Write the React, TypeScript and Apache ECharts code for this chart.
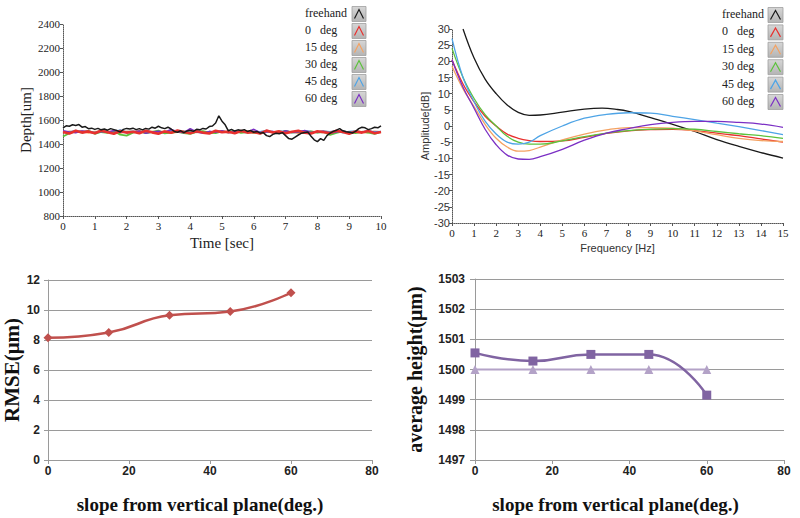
import React, { useEffect, useRef } from "react";
import * as echarts from "echarts";

// ---------- Panel 1: depth vs time ----------
const freehandStep = 0.1;
const freehandDepth = [
  1535, 1552, 1548, 1560, 1555, 1562, 1540, 1545, 1528, 1532,
  1522, 1530, 1518, 1525, 1515, 1528, 1520, 1512, 1500, 1522,
  1530, 1525, 1532, 1520, 1528, 1518, 1530, 1524, 1540, 1532,
  1548, 1535, 1528, 1540, 1525, 1505, 1498, 1510, 1495, 1508,
  1515, 1505, 1522, 1518, 1530, 1525, 1545, 1550, 1575, 1635,
  1590, 1560, 1510, 1522, 1508, 1518, 1512, 1520, 1505, 1512,
  1498, 1505, 1490, 1495, 1470, 1462, 1480, 1490, 1485, 1495,
  1470, 1445, 1440, 1458, 1475, 1490, 1495, 1500, 1465, 1435,
  1420, 1445, 1430, 1470, 1490, 1505, 1515, 1528, 1510, 1502,
  1498, 1492, 1505, 1528, 1540, 1535, 1520, 1528, 1540, 1535,
  1552,
];
const angleStep = 0.2;
const deg0Depth = [1500,1488,1510,1495,1505,1490,1512,1498,1485,1508,1495,1502,1490,1510,1497,1485,1505,1493,1512,1500,1490,1506,1495,1488,1510,1498,1503,1490,1508,1495,1500,1487,1512,1496,1505,1490,1502,1510,1494,1488,1506,1498,1492,1510,1500,1486,1505,1495,1508,1490,1500];
const deg15Depth = [1495,1505,1498,1510,1492,1503,1500,1508,1496,1490,1505,1500,1512,1495,1502,1497,1508,1493,1500,1505,1510,1496,1502,1490,1500,1507,1495,1503,1498,1510,1492,1500,1505,1497,1508,1495,1500,1490,1506,1502,1498,1510,1495,1500,1504,1493,1508,1500,1496,1505,1498];
const deg30Depth = [1462,1490,1505,1495,1510,1485,1500,1492,1508,1478,1470,1495,1505,1490,1500,1512,1488,1495,1502,1490,1485,1500,1508,1495,1490,1505,1498,1510,1492,1500,1495,1488,1505,1500,1490,1510,1496,1502,1490,1505,1495,1500,1475,1492,1505,1498,1490,1502,1495,1485,1500];
const deg45Depth = [1505,1498,1512,1500,1508,1495,1510,1502,1497,1515,1500,1505,1492,1510,1498,1503,1495,1512,1500,1505,1497,1510,1500,1495,1508,1502,1498,1510,1503,1495,1505,1500,1512,1497,1502,1508,1495,1500,1510,1503,1498,1505,1500,1512,1495,1502,1508,1498,1505,1500,1502];
const deg60Depth = [1510,1500,1495,1508,1502,1490,1505,1498,1512,1500,1495,1502,1508,1490,1500,1505,1498,1520,1502,1495,1528,1500,1490,1505,1498,1510,1495,1502,1508,1500,1522,1495,1500,1505,1490,1510,1498,1500,1512,1495,1502,1505,1490,1500,1508,1495,1502,1500,1510,1495,1500];

// ---------- Panel 2: amplitude spectrum ----------
const freqs = [0, 0.5, 1, 1.5, 2, 2.5, 3, 3.5, 4, 5, 6, 7, 8, 9, 10, 11, 12, 13, 14, 15];
const freehandFreqs = [0.5, 1, 1.5, 2, 2.5, 3, 3.5, 4, 5, 6, 6.8, 7.5, 8, 9, 10, 11, 12, 13, 14, 15];
const freehandAmp = [30, 21, 14.5, 10, 6.5, 4.2, 3.3, 3.4, 4.3, 5.2, 5.5, 5.1, 4.5, 2.6, 0.5, -1.7, -4.2, -6.3, -8.2, -9.9];
const deg0Amp = [20.5, 13, 7.5, 3, 0, -2.5, -3.8, -4.5, -4.8, -4.6, -3.5, -2.3, -1.5, -1.1, -1, -1.4, -2.2, -3, -4, -5];
const deg15Amp = [18.5, 11.5, 6, 0.5, -3.8, -6.5, -7.8, -7.6, -6.5, -4.3, -2.5, -1.2, -0.5, -0.5, -0.7, -1.5, -2.7, -3.8, -4.5, -4.8];
const deg30Amp = [24, 15, 8.5, 3.5, 0, -3.2, -5, -5.6, -5.6, -4.6, -3.3, -2.2, -1.4, -1, -0.8, -1, -1.7, -2.4, -3, -3.8];
const deg45Amp = [27, 15, 7.5, 1.5, -2.5, -5, -5.6, -5, -3, 0, 2.4, 3.6, 4.1, 4, 3, 2, 0.9, -0.2, -1.4, -2.7];
const deg60Amp = [20.5, 12, 5.5, -1, -5.8, -9, -10.2, -10.3, -9.5, -7.2, -4.4, -2.2, -0.8, 0.4, 1.1, 1.4, 1.4, 1.1, 0.6, -0.4];

// ---------- Panels 3 & 4 ----------
const slopes = [0, 15, 30, 45, 60];
const rmse = [8.15, 8.5, 9.65, 9.9, 11.15];
const avgHeight = [1500.55, 1500.28, 1500.5, 1500.5, 1499.15];
const trueHeight = [1500, 1500, 1500, 1500, 1500];

// ---------- Legend ----------
const legendLabels = ["freehand", "0   deg", "15 deg", "30 deg", "45 deg", "60 deg"];
const legendColors = ["#1a1a1a", "#e8302e", "#f4a262", "#5cc23c", "#4ea4e6", "#7b2fc4"];

const SERIF = "'Liberation Serif', 'Times New Roman', serif";
const SANS = "'Liberation Sans', Arial, sans-serif";
const plain = (v: number) => String(v);

function legendGraphics(textX: number, boxX: number, y0: number, step: number, boxW: number) {
  const els: any[] = [];
  legendLabels.forEach((label, i) => {
    const cy = y0 + i * step;
    els.push({
      type: "text",
      left: textX,
      top: cy - 7,
      style: { text: label, font: `12px ${SERIF}`, fill: "#222" },
    });
    const bx = boxX, by = cy - 7.5, bh = 15;
    els.push({
      type: "rect",
      shape: { x: bx, y: by, width: boxW, height: bh },
      style: {
        fill: new echarts.graphic.LinearGradient(0, 0, 0, 1, [
          { offset: 0, color: "#d6d6d6" },
          { offset: 1, color: "#b4b4b4" },
        ]),
        stroke: "#a0a0a0",
        lineWidth: 0.8,
      },
    });
    els.push({
      type: "polyline",
      shape: { points: [[bx + 2.5, by + bh - 3], [bx + boxW / 2, by + 3], [bx + boxW - 2.5, by + bh - 3]] },
      style: { stroke: legendColors[i], lineWidth: 1.2, fill: "none" },
    });
  });
  return els;
}

const topAxisLine = { show: true, onZero: false, lineStyle: { color: "#555", type: "dotted" as const, width: 1 } };

export default function App() {
  const ref = useRef<HTMLDivElement>(null);
  useEffect(() => {
    document.body.style.margin = "0";
    if (!ref.current) return;
    const chart = echarts.init(ref.current, undefined, { renderer: "svg" });

    const depthSeries = (name: string, arr: number[], step: number, color: string, w: number) => ({
      type: "line",
      name,
      xAxisIndex: 0,
      yAxisIndex: 0,
      showSymbol: false,
      symbol: "none",
      data: arr.map((v, i) => [Number((i * step).toFixed(2)), v]),
      lineStyle: { color, width: w },
      z: 2,
    });
    const ampSeries = (name: string, xs: number[], arr: number[], color: string) => ({
      type: "line",
      name,
      xAxisIndex: 1,
      yAxisIndex: 1,
      smooth: 0.4,
      showSymbol: false,
      symbol: "none",
      data: arr.map((v, i) => [xs[i], v]),
      lineStyle: { color, width: 1.3 },
    });

    const boldTick = { fontFamily: SANS, fontWeight: "bold" as const, fontSize: 12, color: "#222", formatter: plain };
    const boldTitle = { fontFamily: SERIF, fontWeight: "bold" as const, color: "#111" };

    chart.setOption({
      animation: false,
      backgroundColor: "#fff",
      grid: [
        { left: 63, top: 24, width: 318, height: 192 },
        { left: 452, top: 29, width: 331, height: 194 },
        { left: 48, top: 280, width: 324, height: 180 },
        { left: 475, top: 279, width: 309, height: 181 },
      ],
      xAxis: [
        {
          gridIndex: 0, type: "value", min: 0, max: 10, interval: 1,
          axisLine: topAxisLine,
          axisTick: { show: true, length: 3, lineStyle: { color: "#555" } },
          splitLine: { show: false },
          axisLabel: { fontFamily: SERIF, fontSize: 11, color: "#222", margin: 4, formatter: plain },
          name: "Time [sec]", nameLocation: "middle", nameGap: 19,
          nameTextStyle: { fontFamily: SERIF, fontSize: 15, color: "#222" },
        },
        {
          gridIndex: 1, type: "value", min: 0, max: 15, interval: 1,
          axisLine: topAxisLine,
          axisTick: { show: true, length: 3, lineStyle: { color: "#555" } },
          splitLine: { show: false },
          axisLabel: { fontFamily: SERIF, fontSize: 11, color: "#222", margin: 4, formatter: plain },
          name: "Frequency [Hz]", nameLocation: "middle", nameGap: 19,
          nameTextStyle: { fontFamily: SANS, fontSize: 11, color: "#333" },
        },
        {
          gridIndex: 2, type: "value", min: 0, max: 80, interval: 20,
          axisLine: { show: true, onZero: false, lineStyle: { color: "#9a9a9a" } },
          axisTick: { show: true, length: 4, lineStyle: { color: "#9a9a9a" } },
          splitLine: { show: false },
          axisLabel: { ...boldTick, margin: 5 },
          name: "slope from vertical plane(deg.)", nameLocation: "middle", nameGap: 35,
          nameTextStyle: { ...boldTitle, fontSize: 19, padding: [0, 20, 0, 0] },
        },
        {
          gridIndex: 3, type: "value", min: 0, max: 80, interval: 20,
          axisLine: { show: true, onZero: false, lineStyle: { color: "#9a9a9a" } },
          axisTick: { show: true, length: 4, lineStyle: { color: "#9a9a9a" } },
          splitLine: { show: false },
          axisLabel: { ...boldTick, margin: 5 },
          name: "slope from vertical plane(deg.)", nameLocation: "middle", nameGap: 35,
          nameTextStyle: { ...boldTitle, fontSize: 19, padding: [0, 28, 0, 0] },
        },
      ],
      yAxis: [
        {
          gridIndex: 0, type: "value", min: 800, max: 2400, interval: 200,
          axisLine: topAxisLine,
          axisTick: { show: true, length: 3, lineStyle: { color: "#555" } },
          splitLine: { show: false },
          axisLabel: { fontFamily: SERIF, fontSize: 11, color: "#222", margin: 3, formatter: plain },
          name: "Depth[um]", nameLocation: "middle", nameGap: 30,
          nameTextStyle: { fontFamily: SERIF, fontSize: 15, color: "#222" },
        },
        {
          gridIndex: 1, type: "value", min: -30, max: 30, interval: 5,
          axisLine: topAxisLine,
          axisTick: { show: true, length: 3, lineStyle: { color: "#555" } },
          splitLine: { show: false },
          axisLabel: { fontFamily: SANS, fontSize: 11, color: "#333", margin: 2, formatter: plain },
          name: "Amplitude[dB]", nameLocation: "middle", nameGap: 22,
          nameTextStyle: { fontFamily: SANS, fontSize: 11, color: "#333" },
        },
        {
          gridIndex: 2, type: "value", min: 0, max: 12, interval: 2,
          axisLine: { show: true, onZero: false, lineStyle: { color: "#9a9a9a" } },
          axisTick: { show: true, length: 4, lineStyle: { color: "#9a9a9a" } },
          splitLine: { show: true, lineStyle: { color: "#9a9a9a", width: 1 } },
          axisLabel: { ...boldTick, margin: 8 },
          name: "RMSE(μm)", nameLocation: "middle", nameGap: 24,
          nameTextStyle: { ...boldTitle, fontSize: 21 },
        },
        {
          gridIndex: 3, type: "value", min: 1497, max: 1503, interval: 1,
          axisLine: { show: true, onZero: false, lineStyle: { color: "#9a9a9a" } },
          axisTick: { show: true, length: 5, lineStyle: { color: "#9a9a9a" } },
          splitLine: { show: true, lineStyle: { color: "#9a9a9a", width: 1 } },
          axisLabel: { ...boldTick, margin: 10 },
          name: "average height(μm)", nameLocation: "middle", nameGap: 50,
          nameTextStyle: { ...boldTitle, fontSize: 20 },
        },
      ],
      series: [
        depthSeries("15 deg", deg15Depth, angleStep, legendColors[2], 1.8),
        depthSeries("45 deg", deg45Depth, angleStep, legendColors[4], 1.8),
        depthSeries("30 deg", deg30Depth, angleStep, legendColors[3], 1.8),
        depthSeries("60 deg", deg60Depth, angleStep, legendColors[5], 1.6),
        depthSeries("0 deg", deg0Depth, angleStep, legendColors[1], 2.6),
        depthSeries("freehand", freehandDepth, freehandStep, legendColors[0], 1.5),
        ampSeries("freehand", freehandFreqs, freehandAmp, legendColors[0]),
        ampSeries("0 deg", freqs, deg0Amp, legendColors[1]),
        ampSeries("15 deg", freqs, deg15Amp, legendColors[2]),
        ampSeries("30 deg", freqs, deg30Amp, legendColors[3]),
        ampSeries("45 deg", freqs, deg45Amp, legendColors[4]),
        ampSeries("60 deg", freqs, deg60Amp, legendColors[5]),
        {
          type: "line", name: "RMSE", xAxisIndex: 2, yAxisIndex: 2, smooth: 0.5,
          data: slopes.map((s, i) => [s, rmse[i]]),
          symbol: "diamond", symbolSize: 9,
          lineStyle: { color: "#c0504d", width: 2.5 },
          itemStyle: { color: "#c0504d" },
        },
        {
          type: "line", name: "true height", xAxisIndex: 3, yAxisIndex: 3,
          data: slopes.map((s, i) => [s, trueHeight[i]]),
          symbol: "triangle", symbolSize: 9,
          lineStyle: { color: "#b3a2c7", width: 2.2 },
          itemStyle: { color: "#b3a2c7" },
        },
        {
          type: "line", name: "average height", xAxisIndex: 3, yAxisIndex: 3, smooth: 0.5,
          data: slopes.map((s, i) => [s, avgHeight[i]]),
          symbol: "rect", symbolSize: 9,
          lineStyle: { color: "#8064a2", width: 2.5 },
          itemStyle: { color: "#8064a2" },
        },
      ],
      graphic: [
        ...legendGraphics(305, 352, 14, 17, 14),
        ...legendGraphics(722, 768, 15, 17.4, 15),
      ],
    });
    return () => chart.dispose();
  }, []);
  return <div ref={ref} style={{ width: 800, height: 518 }} />;
}
